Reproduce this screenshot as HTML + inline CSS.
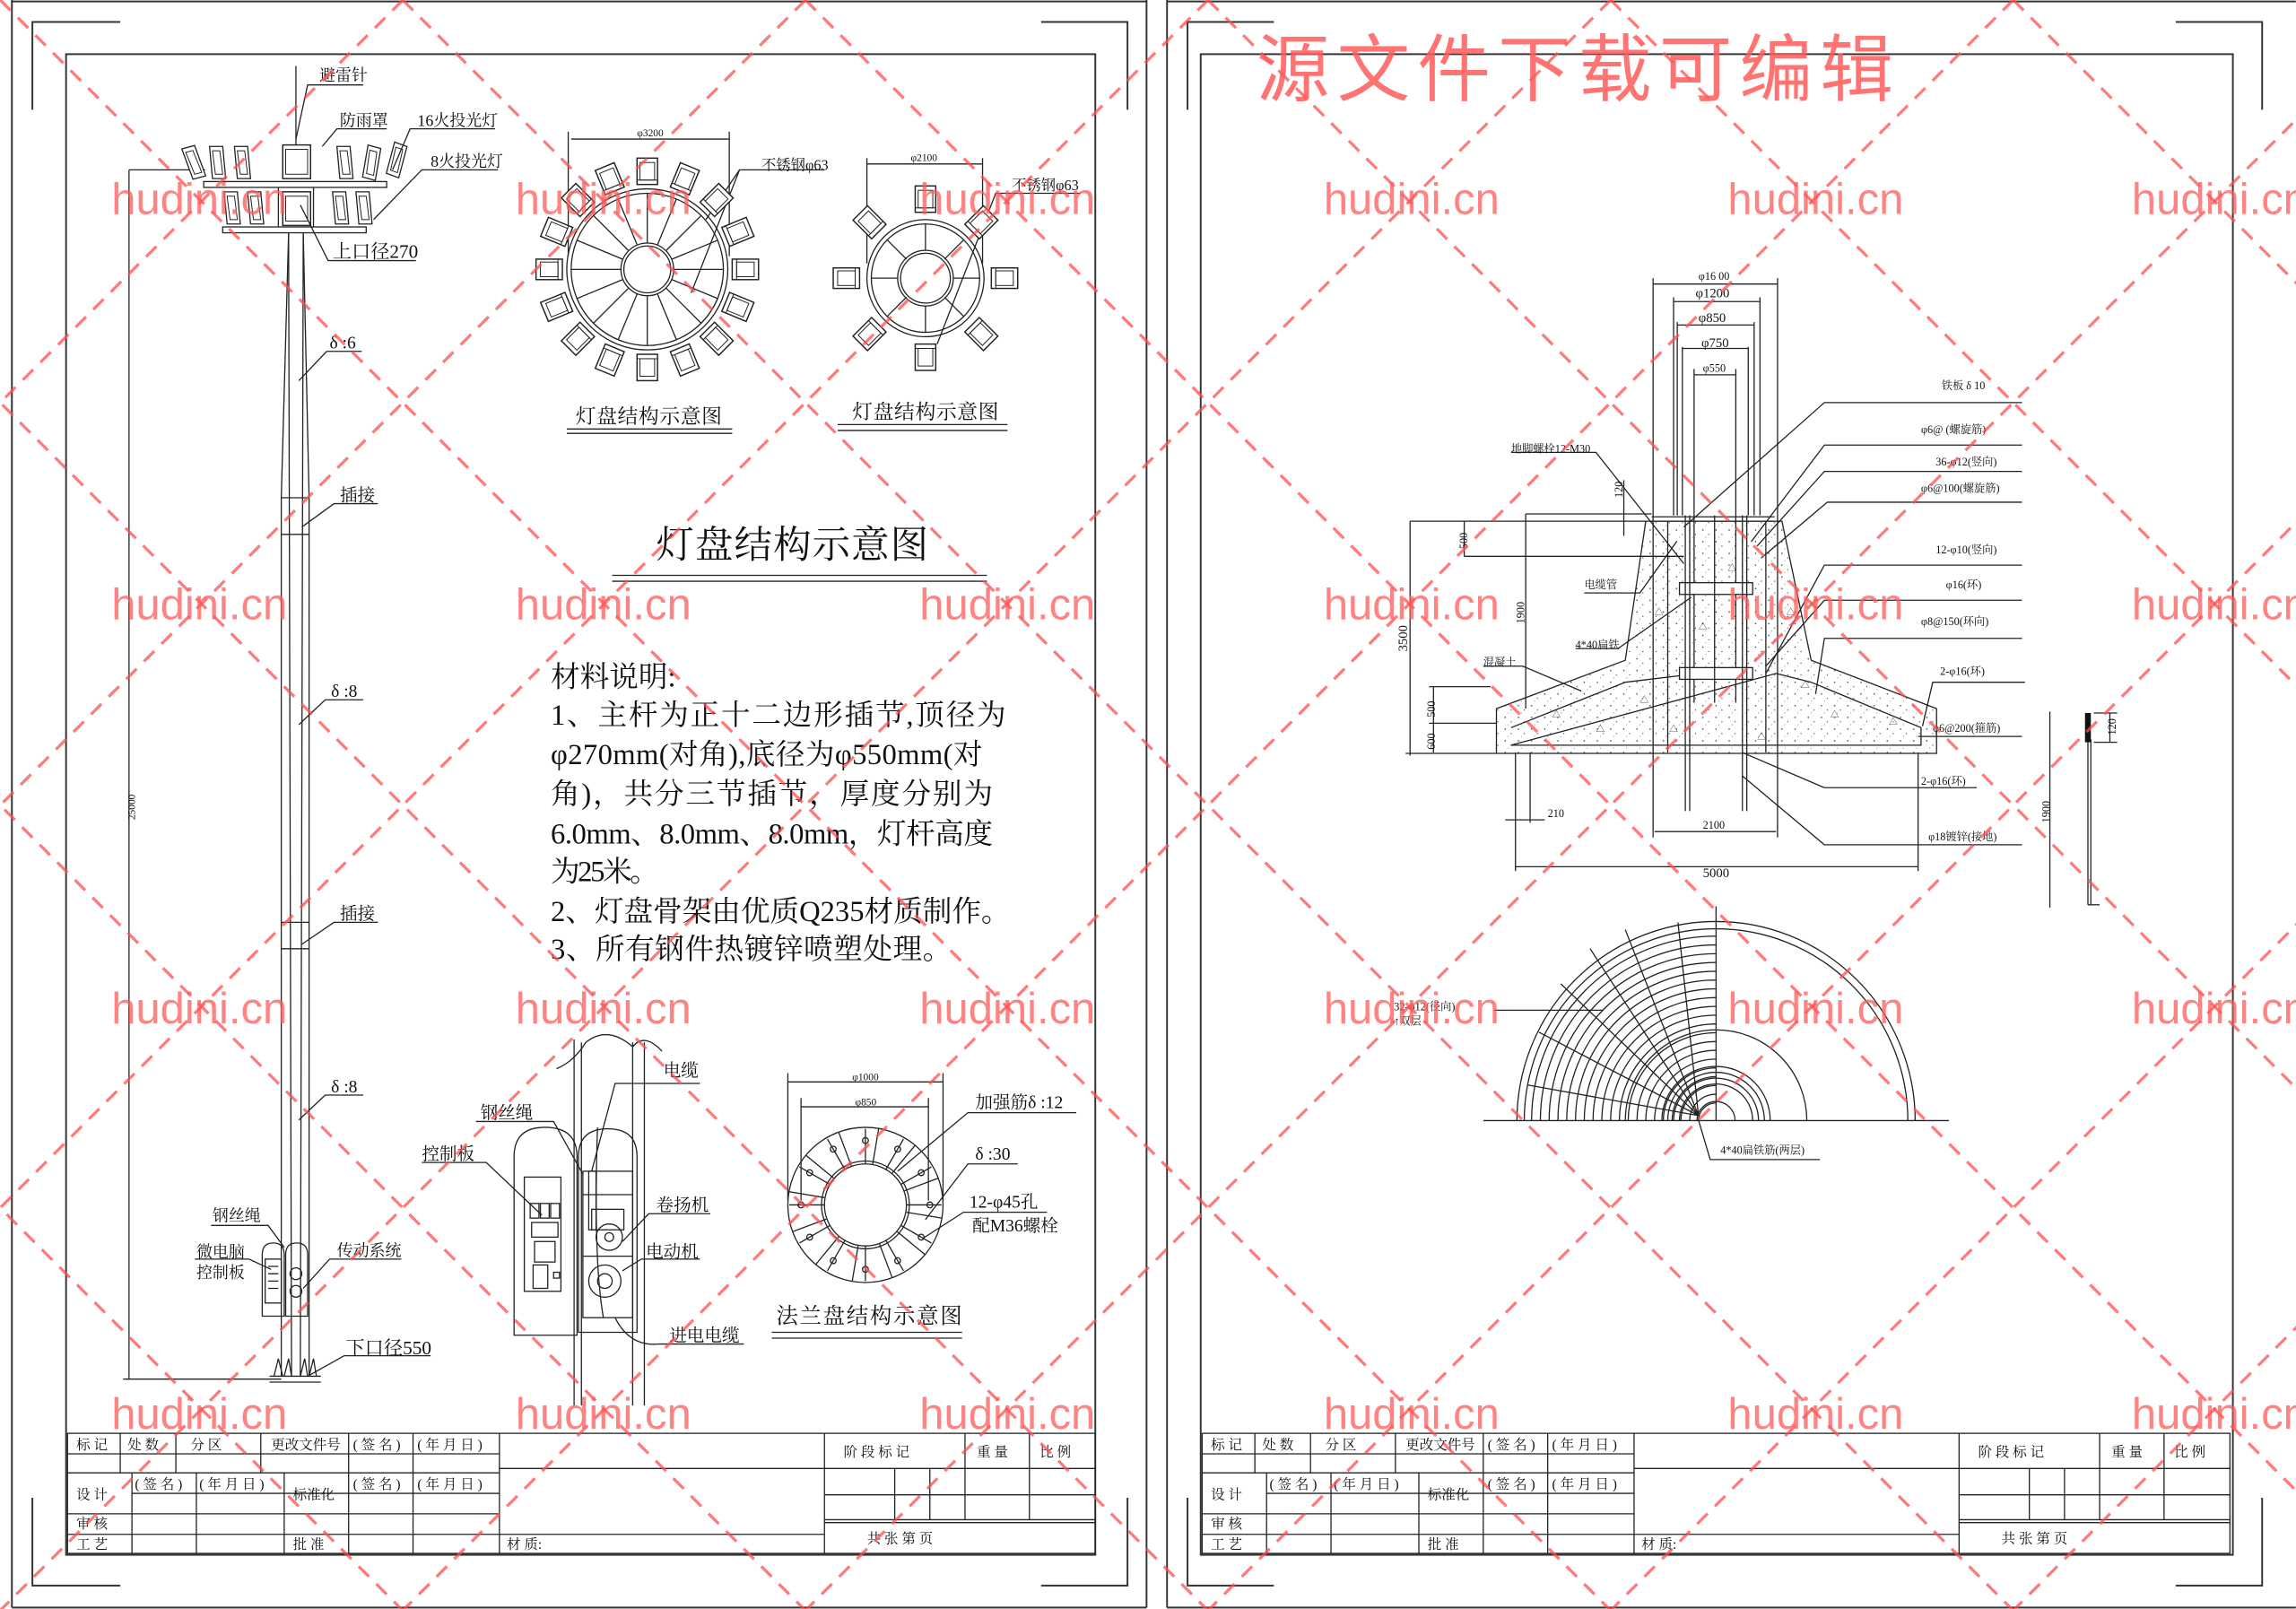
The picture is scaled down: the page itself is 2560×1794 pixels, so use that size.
<!DOCTYPE html>
<html><head><meta charset="utf-8"><style>
html,body{margin:0;padding:0;background:#fff;}
svg{display:block;}
.t{font-family:"Liberation Serif","Noto Serif CJK SC",serif;fill:#111;}
.s{font-family:"Liberation Sans","Noto Sans CJK SC",sans-serif;}
.l{stroke:#222;fill:none;stroke-width:0.8;}
.th{stroke:#333;fill:none;stroke-width:1.2;}
.wm{font-family:"Liberation Sans",sans-serif;font-size:30px;fill:#ff5a5a;fill-opacity:0.75;}
.dl{stroke:#ff4d4d;stroke-opacity:0.75;stroke-width:2;stroke-dasharray:10 7;fill:none;}
</style></head><body>
<svg width="2560" height="1794" viewBox="0 0 1568 1099" xmlns="http://www.w3.org/2000/svg">
<defs>
<g id="lamp"><rect x="-7" y="-9" width="14" height="18" fill="#fff" stroke="#222" stroke-width="0.9"/><rect x="-5" y="-6" width="10" height="12" fill="none" stroke="#222" stroke-width="0.6"/><line x1="-7" y1="6" x2="7" y2="6" stroke="#222" stroke-width="0.6"/></g>
<g id="plamp"><path d="M-5,-12 L4,-12 L6,10 L-3,10 Z" fill="#fff" stroke="#222" stroke-width="0.8"/><path d="M-3,-9 L2,-9 L4,7 L-1,7 Z" fill="none" stroke="#222" stroke-width="0.6"/></g>
<pattern id="conc" width="9" height="8" patternUnits="userSpaceOnUse"><circle cx="2" cy="2" r="0.5" fill="#444"/><circle cx="6" cy="5" r="0.4" fill="#444"/><circle cx="4" cy="7" r="0.3" fill="#666"/></pattern>
</defs>
<rect width="1568" height="1099" fill="#fff"/>

<!-- ============ LEFT SHEET FRAME ============ -->
<g class="th">
<line x1="8" y1="0" x2="8" y2="1098"/>
<line x1="8" y1="1" x2="783" y2="1"/>
<line x1="783" y1="0" x2="783" y2="1098"/>
<line x1="8" y1="1098" x2="783" y2="1098"/>
<rect x="45" y="37" width="703" height="1025"/>
<path d="M22,75 V15 H82 M711,15 H770 V75 M22,1023 V1083 H82 M711,1083 H770 V1023"/>
</g>
<!-- ============ RIGHT SHEET FRAME ============ -->
<g class="th">
<line x1="797" y1="0" x2="797" y2="1098"/>
<line x1="797" y1="1" x2="1568" y2="1"/>
<line x1="797" y1="1098" x2="1568" y2="1098"/>
<rect x="820" y="37" width="705" height="1025"/>
<path d="M811,75 V15 H870 M1486,15 H1545 V75 M811,1023 V1083 H870 M1486,1083 H1545 V1023"/>
</g>

<!-- ============ TITLE BLOCKS ============ -->
<g id="tb">
<g class="l">
<rect x="46" y="979" width="702" height="82"/>
<line x1="46" y1="993" x2="341" y2="993"/>
<line x1="46" y1="1006" x2="341" y2="1006"/>
<line x1="90" y1="1020" x2="341" y2="1020"/>
<line x1="46" y1="1034" x2="341" y2="1034"/>
<line x1="46" y1="1048" x2="563" y2="1048"/>
<line x1="82" y1="979" x2="82" y2="1006"/>
<line x1="120" y1="979" x2="120" y2="1006"/>
<line x1="178" y1="979" x2="178" y2="1006"/>
<line x1="238" y1="979" x2="238" y2="1061"/>
<line x1="282" y1="979" x2="282" y2="1061"/>
<line x1="341" y1="979" x2="341" y2="1061"/>
<line x1="90" y1="1006" x2="90" y2="1061"/>
<line x1="134" y1="1006" x2="134" y2="1061"/>
<line x1="194" y1="1006" x2="194" y2="1061"/>
<line x1="341" y1="1003" x2="748" y2="1003"/>
<line x1="563" y1="979" x2="563" y2="1061"/>
<line x1="563" y1="1021" x2="748" y2="1021"/>
<line x1="563" y1="1038" x2="748" y2="1038"/>
<line x1="563" y1="1040" x2="748" y2="1040"/>
<line x1="611" y1="1003" x2="611" y2="1038"/>
<line x1="635" y1="1003" x2="635" y2="1038"/>
<line x1="659" y1="979" x2="659" y2="1038"/>
<line x1="703" y1="979" x2="703" y2="1038"/>
</g>
<g class="t" font-size="9.5">
<text x="52" y="990">标 记</text><text x="87" y="990">处 数</text><text x="130" y="990">分  区</text>
<text x="185" y="990">更改文件号</text><text x="241" y="990">( 签 名 )</text><text x="285" y="990">( 年 月 日 )</text>
<text x="52" y="1024">设  计</text><text x="92" y="1017">( 签 名 )</text><text x="136" y="1017">( 年 月 日 )</text>
<text x="200" y="1024">标准化</text><text x="241" y="1017">( 签 名 )</text><text x="285" y="1017">( 年 月 日 )</text>
<text x="52" y="1044">审  核</text><text x="52" y="1058">工  艺</text><text x="200" y="1058">批  准</text>
<text x="346" y="1058">材 质:</text>
<text x="576" y="995">阶 段 标 记</text><text x="667" y="995">重 量</text><text x="710" y="995">比 例</text>
<text x="592" y="1054">共      张      第      页</text>
</g>
</g>
<use href="#tb" transform="translate(775,0)"/>

<!-- ============ POLE ============ -->
<g class="l">
<line x1="202" y1="45" x2="202" y2="100"/>
<rect x="139" y="124" width="125" height="4"/>
<rect x="152" y="155" width="98" height="4"/>
<line x1="190" y1="128" x2="190" y2="155"/><line x1="214" y1="128" x2="214" y2="155"/>
<line x1="197" y1="159" x2="199" y2="940"/><line x1="207" y1="159" x2="205" y2="940"/>
<line x1="192" y1="340" x2="192" y2="940"/><line x1="211" y1="340" x2="211" y2="940"/>
<line x1="197" y1="159" x2="192" y2="340"/><line x1="207" y1="159" x2="211" y2="340"/>
<line x1="192" y1="340" x2="211" y2="340"/><line x1="192" y1="365" x2="211" y2="365"/>
<line x1="192" y1="630" x2="211" y2="630"/><line x1="192" y1="648" x2="211" y2="648"/>
<line x1="88" y1="116" x2="140" y2="116"/>
<line x1="88" y1="116" x2="88" y2="942"/>
<line x1="84" y1="942" x2="192" y2="942"/>
<line x1="184" y1="940" x2="219" y2="940"/><line x1="184" y1="944" x2="219" y2="944"/>
<path d="M187,940 L190,928 L193,940 M194,940 L197,928 L199,940 M205,940 L208,928 L210,940 M211,940 L214,928 L216,940"/>
<path d="M179,899 V857 Q179,849 186.5,849 Q194,849 194,857 V899 Z"/>
<path d="M195,899 V857 Q195,849 202.5,849 Q210,849 210,857 V899 Z"/>
<rect x="181" y="860" width="11" height="30"/><circle cx="202" cy="870" r="4"/><circle cx="202" cy="882" r="4"/>
<path d="M183,865 h7 M183,870 h7 M183,875 h7 M183,880 h7"/>
</g>
<g>
<use href="#plamp" x="132" y="112" transform="rotate(-15 132 112)"/>
<use href="#plamp" x="148" y="112"/><use href="#plamp" x="165" y="112"/>
<use href="#plamp" x="235" y="112"/><use href="#plamp" x="253" y="112" transform="rotate(15 253 112)"/>
<use href="#plamp" x="270" y="110" transform="rotate(20 270 110)"/>
<use href="#plamp" x="158" y="143"/><use href="#plamp" x="174" y="143"/>
<use href="#plamp" x="232" y="143"/><use href="#plamp" x="248" y="143"/>
<rect x="193" y="99" width="19" height="23" fill="#fff" stroke="#222" stroke-width="0.9"/>
<rect x="195" y="102" width="15" height="17" fill="none" stroke="#222" stroke-width="0.6"/>
<rect x="193" y="131" width="19" height="23" fill="#fff" stroke="#222" stroke-width="0.9"/>
<rect x="195" y="134" width="15" height="17" fill="none" stroke="#222" stroke-width="0.6"/>
</g>
<g class="l">
<path d="M202,95 L210,58 H248"/>
<path d="M220,100 L230,88 H264"/>
<path d="M268,116 L280,88 H338"/>
<path d="M255,150 L288,116 H340"/>
<path d="M205,140 L224,178 H284"/>
<path d="M204,260 L223,240 H247"/>
<path d="M206,360 L228,344 H258"/>
<path d="M204,495 L222,478 H248"/>
<path d="M206,645 L228,630 H258"/>
<path d="M204,765 L222,748 H248"/>
<path d="M194,852 L183,837 H144"/>
<path d="M185,867 L170,860 H133"/>
<path d="M207,880 L225,860 H274"/>
<path d="M210,940 L235,926 H294"/>
</g>
<g class="t">
<text x="218" y="55" font-size="11">避雷针</text>
<text x="232" y="86" font-size="11">防雨罩</text>
<text x="285" y="86" font-size="11">16火投光灯</text>
<text x="294" y="114" font-size="11">8火投光灯</text>
<text x="227" y="176" font-size="13">上口径270</text>
<text x="225" y="238" font-size="12">δ :6</text>
<text x="232" y="342" font-size="12">插接</text>
<text x="226" y="476" font-size="12">δ :8</text>
<text x="232" y="628" font-size="12">插接</text>
<text x="226" y="746" font-size="12">δ :8</text>
<text x="145" y="834" font-size="11">钢丝绳</text>
<text x="134" y="859" font-size="11">微电脑</text>
<text x="134" y="873" font-size="11">控制板</text>
<text x="230" y="858" font-size="11">传动系统</text>
<text x="236" y="925" font-size="13">下口径550</text>
<text x="92" y="560" font-size="7" transform="rotate(-90 92 560)">25000</text>
</g>

<!-- ============ BIG LAMP DISK ============ -->
<g class="l">
<circle cx="442" cy="184" r="55"/><circle cx="442" cy="184" r="52"/>
<circle cx="442" cy="184" r="18"/><circle cx="442" cy="184" r="16"/>
<g id="sp16">
<line x1="460" y1="184" x2="494" y2="184"/><line x1="424" y1="184" x2="390" y2="184"/>
<line x1="442" y1="166" x2="442" y2="132"/><line x1="442" y1="202" x2="442" y2="236"/>
<line x1="455" y1="171" x2="479" y2="147"/><line x1="429" y1="197" x2="405" y2="221"/>
<line x1="429" y1="171" x2="405" y2="147"/><line x1="455" y1="197" x2="479" y2="221"/>
</g>
<use href="#sp16" transform="rotate(22.5 442 184)"/>
<line x1="390" y1="95" x2="498" y2="95"/><line x1="388" y1="90" x2="388" y2="175"/><line x1="498" y1="90" x2="498" y2="175"/>
<path d="M472,200 L505,116 H563"/>
<path d="M482,150 L505,116"/>
<line x1="387" y1="293" x2="500" y2="293"/><line x1="387" y1="296" x2="500" y2="296"/>
</g>
<g>
<use href="#lamp" transform="translate(442,184) rotate(0) translate(0,-67)"/>
<use href="#lamp" transform="translate(442,184) rotate(22.5) translate(0,-67)"/>
<use href="#lamp" transform="translate(442,184) rotate(45) translate(0,-67)"/>
<use href="#lamp" transform="translate(442,184) rotate(67.5) translate(0,-67)"/>
<use href="#lamp" transform="translate(442,184) rotate(90) translate(0,-67)"/>
<use href="#lamp" transform="translate(442,184) rotate(112.5) translate(0,-67)"/>
<use href="#lamp" transform="translate(442,184) rotate(135) translate(0,-67)"/>
<use href="#lamp" transform="translate(442,184) rotate(157.5) translate(0,-67)"/>
<use href="#lamp" transform="translate(442,184) rotate(180) translate(0,-67)"/>
<use href="#lamp" transform="translate(442,184) rotate(202.5) translate(0,-67)"/>
<use href="#lamp" transform="translate(442,184) rotate(225) translate(0,-67)"/>
<use href="#lamp" transform="translate(442,184) rotate(247.5) translate(0,-67)"/>
<use href="#lamp" transform="translate(442,184) rotate(270) translate(0,-67)"/>
<use href="#lamp" transform="translate(442,184) rotate(292.5) translate(0,-67)"/>
<use href="#lamp" transform="translate(442,184) rotate(315) translate(0,-67)"/>
<use href="#lamp" transform="translate(442,184) rotate(337.5) translate(0,-67)"/>
</g>
<!-- ============ SMALL LAMP DISK ============ -->
<g class="l">
<circle cx="632" cy="190" r="40"/><circle cx="632" cy="190" r="37"/>
<circle cx="632" cy="190" r="19"/><circle cx="632" cy="190" r="17"/>
<line x1="651" y1="190" x2="669" y2="190"/><line x1="613" y1="190" x2="595" y2="190"/>
<line x1="632" y1="171" x2="632" y2="153"/><line x1="632" y1="209" x2="632" y2="227"/>
<line x1="645" y1="177" x2="658" y2="164"/><line x1="619" y1="203" x2="606" y2="216"/>
<line x1="619" y1="177" x2="606" y2="164"/><line x1="645" y1="203" x2="658" y2="216"/>
<line x1="592" y1="112" x2="671" y2="112"/><line x1="592" y1="108" x2="592" y2="180"/><line x1="671" y1="108" x2="671" y2="180"/>
<path d="M640,235 L680,132 H738"/>
<line x1="572" y1="290" x2="688" y2="290"/><line x1="572" y1="294" x2="688" y2="294"/>
</g>
<g>
<use href="#lamp" transform="translate(632,190) rotate(0) translate(0,-54)"/>
<use href="#lamp" transform="translate(632,190) rotate(45) translate(0,-54)"/>
<use href="#lamp" transform="translate(632,190) rotate(90) translate(0,-54)"/>
<use href="#lamp" transform="translate(632,190) rotate(135) translate(0,-54)"/>
<use href="#lamp" transform="translate(632,190) rotate(180) translate(0,-54)"/>
<use href="#lamp" transform="translate(632,190) rotate(225) translate(0,-54)"/>
<use href="#lamp" transform="translate(632,190) rotate(270) translate(0,-54)"/>
<use href="#lamp" transform="translate(632,190) rotate(315) translate(0,-54)"/>
</g>
<g class="t">
<text x="435" y="93" font-size="7">φ3200</text>
<text x="520" y="116" font-size="10">不锈钢φ63</text>
<text x="622" y="110" font-size="7">φ2100</text>
<text x="691" y="130" font-size="10">不锈钢φ63</text>
<text x="393" y="289" font-size="14" textLength="100">灯盘结构示意图</text>
<text x="582" y="286" font-size="14" textLength="100">灯盘结构示意图</text>
<text x="448" y="381" font-size="26" textLength="186">灯盘结构示意图</text>
</g>
<g class="l"><line x1="418" y1="393" x2="674" y2="393"/><line x1="418" y1="397" x2="674" y2="397"/></g>

<!-- ============ MATERIAL NOTES ============ -->
<g class="t" font-size="20">
<text x="376" y="469">材料说明:</text>
<text x="376" y="495" textLength="311">1、主杆为正十二边形插节,顶径为</text>
<text x="376" y="522" textLength="295">φ270mm(对角),底径为φ550mm(对</text>
<text x="376" y="549" textLength="302">角)，共分三节插节，厚度分别为</text>
<text x="376" y="576" textLength="302">6.0mm、8.0mm、8.0mm，灯杆高度</text>
<text x="376" y="602" textLength="74">为25米。</text>
<text x="376" y="629" textLength="314">2、灯盘骨架由优质Q235材质制作。</text>
<text x="376" y="655" textLength="274">3、所有钢件热镀锌喷塑处理。</text>
</g>

<!-- ============ CABINET DETAIL ============ -->
<g class="l">
<path d="M380,730 Q392,725 400,712 Q415,700 432,715 Q440,705 452,718"/>
<line x1="392" y1="710" x2="392" y2="960"/><line x1="397" y1="712" x2="397" y2="960"/>
<line x1="432" y1="712" x2="432" y2="960"/><line x1="440" y1="712" x2="440" y2="960"/>
<path d="M351,912 V790 Q351,770 372,770 Q394,770 394,790 V912 Z"/>
<path d="M395,910 V790 Q395,771 415,771 Q435,771 435,790 V910 Z"/>
<rect x="358" y="804" width="25" height="78"/>
<rect x="362" y="822" width="6" height="10"/><rect x="369" y="822" width="6" height="10"/><rect x="376" y="822" width="6" height="10"/>
<rect x="363" y="835" width="18" height="10"/><rect x="365" y="848" width="14" height="14"/>
<rect x="364" y="864" width="10" height="16"/><rect x="378" y="869" width="4" height="4"/>
<rect x="398" y="800" width="34" height="100"/>
<line x1="398" y1="816" x2="432" y2="816"/><rect x="404" y="826" width="22" height="14"/>
<circle cx="416" cy="845" r="9"/><circle cx="416" cy="845" r="3"/>
<circle cx="413" cy="875" r="11"/><circle cx="413" cy="875" r="5"/>
<line x1="398" y1="858" x2="432" y2="858"/>
<rect x="402" y="800" width="5" height="40"/>
<path d="M408,770 Q405,860 412,900 M420,900 Q430,920 450,918 H508"/>
<path d="M404,800 L420,740 H478"/>
<path d="M398,802 L378,766 H325"/>
<path d="M370,830 L332,794 H288"/>
<path d="M425,848 L443,829 H485"/>
<path d="M425,868 L438,860 H478"/>
</g>
<g class="t" font-size="12">
<text x="453" y="735">电缆</text>
<text x="328" y="764">钢丝绳</text>
<text x="288" y="792">控制板</text>
<text x="448" y="827">卷扬机</text>
<text x="441" y="859">电动机</text>
<text x="457" y="916">进电电缆</text>
</g>

<!-- ============ FLANGE ============ -->
<g class="l">
<circle cx="591" cy="823" r="53"/><circle cx="591" cy="823" r="30"/><circle cx="591" cy="823" r="28"/>
<g id="rib"><line x1="619" y1="823" x2="643" y2="823"/><line x1="619" y1="828" x2="643" y2="832"/></g>
<use href="#rib" transform="rotate(30 591 823)"/><use href="#rib" transform="rotate(60 591 823)"/>
<use href="#rib" transform="rotate(90 591 823)"/><use href="#rib" transform="rotate(120 591 823)"/>
<use href="#rib" transform="rotate(150 591 823)"/><use href="#rib" transform="rotate(180 591 823)"/>
<use href="#rib" transform="rotate(210 591 823)"/><use href="#rib" transform="rotate(240 591 823)"/>
<use href="#rib" transform="rotate(270 591 823)"/><use href="#rib" transform="rotate(300 591 823)"/>
<use href="#rib" transform="rotate(330 591 823)"/>
<g id="holes"><circle cx="635" cy="823" r="2"/><circle cx="547" cy="823" r="2"/><circle cx="591" cy="779" r="2"/><circle cx="591" cy="867" r="2"/></g>
<use href="#holes" transform="rotate(30 591 823)"/><use href="#holes" transform="rotate(60 591 823)"/>
<line x1="538" y1="739" x2="644" y2="739"/><line x1="538" y1="733" x2="538" y2="820"/><line x1="644" y1="733" x2="644" y2="820"/>
<line x1="547" y1="756" x2="634" y2="756"/><line x1="547" y1="750" x2="547" y2="820"/><line x1="634" y1="750" x2="634" y2="820"/>
<path d="M613,800 L661,760 H735"/>
<path d="M632,833 L661,795 H695"/>
<path d="M630,846 L658,828 H715"/>
<line x1="527" y1="910" x2="657" y2="910"/><line x1="527" y1="914" x2="657" y2="914"/>
</g>
<g class="t">
<text x="582" y="738" font-size="7">φ1000</text>
<text x="584" y="755" font-size="7">φ850</text>
<text x="666" y="757" font-size="12">加强筋δ :12</text>
<text x="666" y="792" font-size="12">δ :30</text>
<text x="662" y="825" font-size="12">12-φ45孔</text>
<text x="664" y="841" font-size="12">配M36螺栓</text>
<text x="530" y="904" font-size="15" textLength="127">法兰盘结构示意图</text>
</g>

<!-- ============ FOUNDATION ============ -->
<path d="M1124,356 L1110,451 L1022,484 V514.6 H1322.6 V484 L1237,451 L1217,356 Z" fill="url(#conc)"/>
<g class="l">
<line x1="1129" y1="190" x2="1129" y2="572"/><line x1="1214" y1="190" x2="1214" y2="572"/>
<line x1="1129" y1="194" x2="1214" y2="194"/>
<line x1="1143" y1="203" x2="1143" y2="352"/><line x1="1202" y1="203" x2="1202" y2="352"/><line x1="1143" y1="206" x2="1202" y2="206"/>
<line x1="1145.5" y1="220" x2="1145.5" y2="352"/><line x1="1198" y1="220" x2="1198" y2="352"/><line x1="1145.5" y1="222" x2="1198" y2="222"/>
<line x1="1149" y1="237" x2="1149" y2="352"/><line x1="1194" y1="237" x2="1194" y2="352"/><line x1="1149" y1="238" x2="1194" y2="238"/>
<line x1="1157" y1="252" x2="1157" y2="480"/><line x1="1185.5" y1="252" x2="1185.5" y2="480"/><line x1="1157" y1="256" x2="1185.5" y2="256"/>
<path d="M1124,356 L1110,451 L1022,484 V514.6 H1322.6 V484 L1237,451 L1217,356 Z"/>
<path d="M1032,497 L1110,466 L1160,460 M1213,460 L1237,466 L1312,497 V509 H1032 Z"/>
<line x1="1139" y1="356" x2="1139" y2="514"/><line x1="1206" y1="356" x2="1206" y2="514"/>
<line x1="1128" y1="353" x2="1212" y2="353"/><line x1="1128" y1="356" x2="1212" y2="356"/>
<rect x="1147" y="398" width="50" height="8" fill="#fff"/><rect x="1147" y="456" width="50" height="8" fill="#fff"/>
<line x1="1151" y1="352" x2="1151" y2="482"/><line x1="1154" y1="352" x2="1154" y2="482"/>
<line x1="1190" y1="352" x2="1190" y2="482"/><line x1="1193" y1="352" x2="1193" y2="482"/>
<line x1="1171" y1="352" x2="1171" y2="480"/>
<line x1="1151" y1="482" x2="1151" y2="554"/><line x1="1154" y1="482" x2="1154" y2="554"/>
<line x1="1190" y1="482" x2="1190" y2="554"/><line x1="1193" y1="482" x2="1193" y2="554"/>
<line x1="1035" y1="514" x2="1035" y2="595"/><line x1="1045" y1="514" x2="1045" y2="562"/>
<line x1="1310" y1="514" x2="1310" y2="595"/>
<line x1="1035" y1="592" x2="1310" y2="592"/>
<line x1="1130" y1="568" x2="1213" y2="568"/>
<line x1="1028" y1="560" x2="1055" y2="560"/>
<line x1="963" y1="356" x2="1124" y2="356"/><line x1="960" y1="514.6" x2="1022" y2="514.6"/>
<line x1="963" y1="356" x2="963" y2="516"/>
<line x1="1042" y1="351" x2="1042" y2="484"/><line x1="1042" y1="351" x2="1128" y2="351"/>
<line x1="1000" y1="356" x2="1000" y2="380"/><line x1="1000" y1="380" x2="1150" y2="380"/>
<line x1="979" y1="469" x2="979" y2="514"/><line x1="976" y1="469" x2="1018" y2="469"/><line x1="976" y1="494" x2="1022" y2="494"/>
<line x1="1109" y1="328" x2="1109" y2="366"/>
<path d="M1150,360 L1246,275 H1381"/>
<path d="M1196,370 L1246,304 H1381"/>
<path d="M1200,373 L1246,322 H1381"/>
<path d="M1203,381 L1248,343 H1381"/>
<path d="M1206,460 L1246,386 H1381"/>
<path d="M1206,455 L1246,410 H1381"/>
<path d="M1240,474 L1246,436 H1381"/>
<path d="M1313,496 L1320,466 H1383"/>
<path d="M1310,503 H1381"/>
<path d="M1190,514 L1246,538 H1350"/>
<path d="M1190,530 L1246,577 H1381"/>
<path d="M1032,309 H1090 L1150,385"/>
<path d="M1082,405 H1120 L1145,370"/>
<path d="M1076,443 H1105 L1155,408"/>
<path d="M1013,455 H1040 L1080,472"/>
<line x1="1400" y1="486" x2="1400" y2="620"/>
<line x1="1426" y1="505" x2="1426" y2="618"/><line x1="1428" y1="505" x2="1428" y2="618"/>
<line x1="1426" y1="618" x2="1434" y2="618"/>
<line x1="1430" y1="487" x2="1446" y2="487"/><line x1="1430" y1="507" x2="1446" y2="507"/><line x1="1441" y1="487" x2="1441" y2="507"/>
<line x1="1013" y1="765.4" x2="1331" y2="765.4"/>
<line x1="1172" y1="619" x2="1172" y2="765.4"/>
<path d="M1036,765.4 A136,136 0 0 1 1308,765.4"/>
<path d="M1041,765.4 A131,131 0 0 1 1303,765.4"/>
<path d="M1110,765.4 A62,62 0 0 1 1172,703.4 A62,62 0 0 1 1234,765.4"/>
<path d="M1135,765.4 A37,37 0 0 1 1209,765.4"/><path d="M1139,765.4 A33,33 0 0 1 1205,765.4"/>
<path d="M1143,765.4 A29,29 0 0 1 1201,765.4"/><path d="M1147,765.4 A25,25 0 0 1 1197,765.4"/>
<path d="M1159,765.4 A13,13 0 0 1 1185,765.4"/>
</g>
<g class="l" stroke-width="0.6">
<path d="M1046,765.4 A126,126 0 0 1 1172,639.4 M1052,765.4 A120,120 0 0 1 1172,645.4 M1058,765.4 A114,114 0 0 1 1172,651.4 M1064,765.4 A108,108 0 0 1 1172,657.4 M1070,765.4 A102,102 0 0 1 1172,663.4 M1076,765.4 A96,96 0 0 1 1172,669.4 M1082,765.4 A90,90 0 0 1 1172,675.4 M1088,765.4 A84,84 0 0 1 1172,681.4 M1094,765.4 A78,78 0 0 1 1172,687.4 M1100,765.4 A72,72 0 0 1 1172,693.4 M1106,765.4 A66,66 0 0 1 1172,699.4 M1112,765.4 A60,60 0 0 1 1172,705.4 M1118,765.4 A54,54 0 0 1 1172,711.4 M1124,765.4 A48,48 0 0 1 1172,717.4 M1130,765.4 A42,42 0 0 1 1172,723.4 M1136,765.4 A36,36 0 0 1 1172,729.4 M1142,765.4 A30,30 0 0 1 1172,735.4 M1148,765.4 A24,24 0 0 1 1172,741.4 M1154,765.4 A18,18 0 0 1 1172,747.4 M1160,765.4 A12,12 0 0 1 1172,753.4"/>
<path d="M1160,762 L1043,741 M1160,762 L1051,705 M1160,762 L1066,672 M1160,762 L1086,648 M1160,762 L1110,635 M1160,762 L1146,630"/>
<path d="M1160,765 L1168,792 H1243"/>
<path d="M1020,690 H1095"/>
</g>
<g class="t" font-size="7.5">
<text x="1160" y="191">φ16 00</text>
<text x="1158" y="203" font-size="9">φ1200</text>
<text x="1160" y="220" font-size="9">φ850</text>
<text x="1162" y="237" font-size="9">φ750</text>
<text x="1163" y="254">φ550</text>
<text x="1326" y="266">铁板 δ 10</text>
<text x="1312" y="296">φ6@  (螺旋筋)</text>
<text x="1322" y="318">36-φ12(竖向)</text>
<text x="1312" y="336">φ6@100(螺旋筋)</text>
<text x="1322" y="378">12-φ10(竖向)</text>
<text x="1329" y="402">φ16(环)</text>
<text x="1312" y="427">φ8@150(环向)</text>
<text x="1325" y="461">2-φ16(环)</text>
<text x="1320" y="500">φ6@200(箍筋)</text>
<text x="1312" y="536">2-φ16(环)</text>
<text x="1317" y="574">φ18镀锌(接地)</text>
<text x="1032" y="309">地脚螺栓12-M30</text>
<text x="1082" y="402">电缆管</text>
<text x="1076" y="443">4*40扁铁</text>
<text x="1013" y="455">混凝土</text>
<text x="1163" y="599" font-size="9">5000</text>
<text x="1163" y="566">2100</text>
<text x="1057" y="558">210</text>
<text x="961" y="445" font-size="9" transform="rotate(-90 961 445)">3500</text>
<text x="1041" y="426" transform="rotate(-90 1041 426)">1900</text>
<text x="1002" y="375" transform="rotate(-90 1002 375)">500</text>
<text x="980" y="490" transform="rotate(-90 980 490)">500</text>
<text x="980" y="512" transform="rotate(-90 980 512)">600</text>
<text x="1108" y="340" transform="rotate(-90 1108 340)">120</text>
<text x="1445" y="502" transform="rotate(-90 1445 502)">120</text>
<text x="1400" y="562" transform="rotate(-90 1400 562)">1900</text>
<text x="952" y="690">32-φ12(径向)</text>
<text x="952" y="700">  ↑双层</text>
<text x="1175" y="788">4*40扁铁筋(两层)</text>
</g>
<g fill="#333" font-size="6" class="s">
<text x="1060" y="490">△</text><text x="1090" y="500">△</text><text x="1120" y="480">△</text><text x="1160" y="430">△</text>
<text x="1180" y="390">△</text><text x="1220" y="420">△</text><text x="1250" y="490">△</text><text x="1290" y="495">△</text>
<text x="1230" y="470">△</text><text x="1140" y="500">△</text><text x="1200" y="505">△</text><text x="1130" y="420">△</text>
</g>
<rect x="1424" y="487" width="4" height="20" fill="#111"/>

<!-- ============ WATERMARK LINES ============ -->
<g class="dl">
<line x1="-1100" y1="0" x2="0" y2="1100"/><line x1="-825" y1="0" x2="275" y2="1100"/>
<line x1="-550" y1="0" x2="550" y2="1100"/><line x1="-275" y1="0" x2="825" y2="1100"/>
<line x1="0" y1="0" x2="1100" y2="1100"/><line x1="275" y1="0" x2="1375" y2="1100"/>
<line x1="550" y1="0" x2="1650" y2="1100"/><line x1="825" y1="0" x2="1925" y2="1100"/>
<line x1="1100" y1="0" x2="2200" y2="1100"/><line x1="1375" y1="0" x2="2475" y2="1100"/>
<line x1="275" y1="0" x2="-825" y2="1100"/><line x1="550" y1="0" x2="-550" y2="1100"/>
<line x1="825" y1="0" x2="-275" y2="1100"/><line x1="1100" y1="0" x2="0" y2="1100"/>
<line x1="1375" y1="0" x2="275" y2="1100"/><line x1="1650" y1="0" x2="550" y2="1100"/>
<line x1="1925" y1="0" x2="825" y2="1100"/><line x1="2200" y1="0" x2="1100" y2="1100"/>
<line x1="2475" y1="0" x2="1375" y2="1100"/><line x1="2750" y1="0" x2="1650" y2="1100"/>
</g>
<g class="wm" text-anchor="middle">
<text x="136" y="146">hudini.cn</text><text x="412" y="146">hudini.cn</text><text x="688" y="146">hudini.cn</text><text x="964" y="146">hudini.cn</text><text x="1240" y="146">hudini.cn</text><text x="1516" y="146">hudini.cn</text>
<text x="136" y="423">hudini.cn</text><text x="412" y="423">hudini.cn</text><text x="688" y="423">hudini.cn</text><text x="964" y="423">hudini.cn</text><text x="1240" y="423">hudini.cn</text><text x="1516" y="423">hudini.cn</text>
<text x="136" y="699">hudini.cn</text><text x="412" y="699">hudini.cn</text><text x="688" y="699">hudini.cn</text><text x="964" y="699">hudini.cn</text><text x="1240" y="699">hudini.cn</text><text x="1516" y="699">hudini.cn</text>
<text x="136" y="976">hudini.cn</text><text x="412" y="976">hudini.cn</text><text x="688" y="976">hudini.cn</text><text x="964" y="976">hudini.cn</text><text x="1240" y="976">hudini.cn</text><text x="1516" y="976">hudini.cn</text>
</g>
<text x="858" y="65" font-family="'Liberation Sans','Noto Sans CJK SC',sans-serif" font-size="50" fill="#ff5a5a" fill-opacity="0.85" textLength="435">源文件下载可编辑</text>
</svg>
</body></html>
